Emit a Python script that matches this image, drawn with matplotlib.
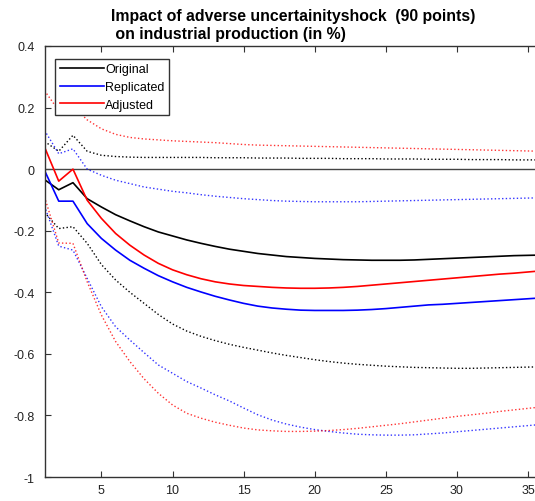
import numpy as np
import matplotlib
matplotlib.use("Agg")
import matplotlib.pyplot as plt

plt.rcParams['font.family'] = ['Liberation Sans', 'DejaVu Sans']
plt.rcParams['axes.unicode_minus'] = False

horizonte = np.arange(1, 37)

original = [-0.034, -0.067, -0.044, -0.096, -0.123, -0.148, -0.168, -0.187, -0.204, -0.217,
            -0.230, -0.241, -0.251, -0.260, -0.267, -0.274, -0.279, -0.284, -0.287, -0.290,
            -0.292, -0.294, -0.295, -0.296, -0.296, -0.296, -0.295, -0.293, -0.291, -0.289,
            -0.287, -0.285, -0.283, -0.281, -0.280, -0.279]
original_sup = [0.090, 0.058, 0.110, 0.058, 0.045, 0.041, 0.039, 0.038, 0.038, 0.038,
                0.038, 0.038, 0.037, 0.037, 0.037, 0.036, 0.036, 0.036, 0.035, 0.035,
                0.035, 0.034, 0.034, 0.034, 0.033, 0.033, 0.033, 0.032, 0.032, 0.032,
                0.031, 0.031, 0.031, 0.030, 0.030, 0.030]
original_inf = [-0.140, -0.193, -0.187, -0.241, -0.310, -0.360, -0.400, -0.436, -0.472, -0.503,
                -0.526, -0.543, -0.557, -0.569, -0.579, -0.588, -0.597, -0.605, -0.612, -0.619,
                -0.625, -0.630, -0.634, -0.637, -0.640, -0.642, -0.644, -0.645, -0.646, -0.647,
                -0.647, -0.646, -0.645, -0.644, -0.643, -0.642]

replicado = [-0.004, -0.104, -0.104, -0.177, -0.225, -0.263, -0.296, -0.322, -0.346, -0.366,
             -0.384, -0.399, -0.413, -0.425, -0.436, -0.445, -0.451, -0.455, -0.458, -0.459,
             -0.459, -0.459, -0.458, -0.456, -0.453, -0.449, -0.445, -0.441, -0.439, -0.436,
             -0.433, -0.430, -0.427, -0.424, -0.421, -0.418]
replicado_sup = [0.126, 0.050, 0.066, 0.000, -0.020, -0.036, -0.047, -0.058, -0.065, -0.072,
                 -0.077, -0.083, -0.088, -0.092, -0.096, -0.099, -0.102, -0.104, -0.105, -0.106,
                 -0.106, -0.106, -0.106, -0.105, -0.104, -0.103, -0.102, -0.101, -0.100, -0.099,
                 -0.098, -0.097, -0.096, -0.095, -0.094, -0.093]
replicado_inf = [-0.120, -0.250, -0.263, -0.355, -0.447, -0.512, -0.555, -0.596, -0.636, -0.663,
                 -0.690, -0.711, -0.733, -0.753, -0.776, -0.798, -0.815, -0.828, -0.838, -0.846,
                 -0.852, -0.857, -0.861, -0.863, -0.864, -0.864, -0.863, -0.860, -0.857, -0.853,
                 -0.849, -0.845, -0.841, -0.837, -0.833, -0.829]

ajustado = [0.072, -0.039, 0.000, -0.101, -0.160, -0.209, -0.247, -0.279, -0.306, -0.327,
            -0.343, -0.356, -0.366, -0.373, -0.378, -0.381, -0.384, -0.386, -0.387, -0.387,
            -0.386, -0.384, -0.381, -0.377, -0.373, -0.369, -0.365, -0.361, -0.357, -0.353,
            -0.349, -0.345, -0.341, -0.338, -0.334, -0.330]
ajustado_sup = [0.255, 0.190, 0.205, 0.160, 0.131, 0.113, 0.103, 0.098, 0.095, 0.092,
                0.090, 0.088, 0.086, 0.083, 0.080, 0.078, 0.077, 0.076, 0.075, 0.074,
                0.073, 0.072, 0.071, 0.070, 0.069, 0.068, 0.067, 0.066, 0.065, 0.064,
                0.063, 0.062, 0.061, 0.060, 0.059, 0.058]
ajustado_inf = [-0.090, -0.240, -0.241, -0.366, -0.474, -0.560, -0.625, -0.681, -0.728, -0.766,
                -0.793, -0.809, -0.822, -0.832, -0.841, -0.847, -0.850, -0.852, -0.852, -0.851,
                -0.849, -0.846, -0.842, -0.837, -0.832, -0.827, -0.821, -0.815, -0.809, -0.803,
                -0.798, -0.793, -0.787, -0.782, -0.777, -0.772]

xticks = [5, 10, 15, 20, 25, 30, 35]
yticks = [-1, -0.8, -0.6, -0.4, -0.2, 0, 0.2, 0.4]
ytick_labels = ["-1", "-0.8", "-0.6", "-0.4", "-0.2", "0", "0.2", "0.4"]

titulo = "Impact of adverse uncertainityshock  (90 points)\n on industrial production (in %)"

fig = plt.figure(figsize=(5.35, 5.02), dpi=100)
# el eje derecho queda fuera de la imagen, como en el original
ax = fig.add_axes([0.0832, 0.0478, 0.9305, 0.8586])

ax.axhline(0, color="#444444", lw=1.0)

ax.plot(horizonte, original, color="k", lw=1.2, label="Original")
ax.plot(horizonte, replicado, color="b", lw=1.2, label="Replicated")
ax.plot(horizonte, ajustado, color="r", lw=1.2, label="Adjusted")

ax.plot(horizonte, original_sup, color="k", lw=1.0, ls=":")
ax.plot(horizonte, original_inf, color="k", lw=1.0, ls=":")
ax.plot(horizonte, replicado_sup, color="b", lw=1.0, ls=":", alpha=0.8)
ax.plot(horizonte, replicado_inf, color="b", lw=1.0, ls=":", alpha=0.8)
ax.plot(horizonte, ajustado_sup, color="r", lw=1.0, ls=":", alpha=0.8)
ax.plot(horizonte, ajustado_inf, color="r", lw=1.0, ls=":", alpha=0.8)

ax.set_xlim(1, 36)
ax.set_ylim(-1, 0.4)
ax.set_xticks(xticks)
ax.set_yticks(yticks)
ax.set_yticklabels(ytick_labels)
ax.tick_params(direction="in", top=True, right=True, labelsize=9, length=4,
               color="#333333", labelcolor="#222222")
ax.tick_params(axis="y", pad=7)
ax.tick_params(axis="x", pad=5)
for s in ax.spines.values():
    s.set_color("#333333")
    s.set_linewidth(1.0)

ax.set_title(titulo, fontsize=11.4, fontweight="bold", multialignment="left", pad=6)

leg = ax.legend(loc="upper left", bbox_to_anchor=(0.022, 0.97), fontsize=9,
                handlelength=3.5, handletextpad=0.15, borderpad=0.35, labelspacing=0.45,
                fancybox=False, framealpha=1, edgecolor="#333333", borderaxespad=0)
leg.get_frame().set_linewidth(1.0)

plt.savefig("out.png", dpi=100)
